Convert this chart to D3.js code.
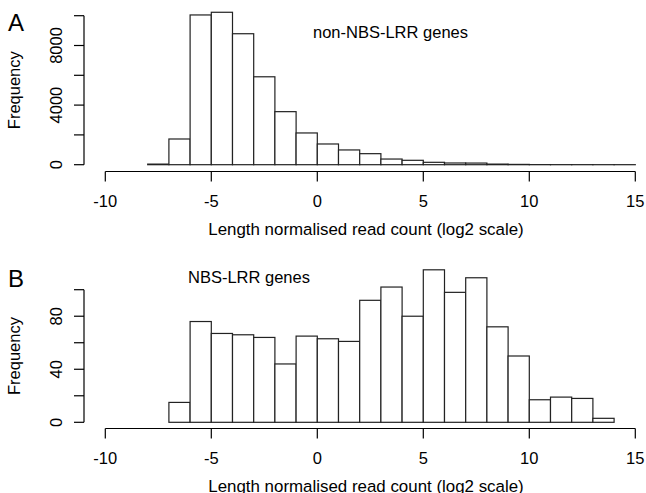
<!DOCTYPE html>
<html>
<head>
<meta charset="utf-8">
<script src="https://cdn.jsdelivr.net/npm/d3@7"></script>
<style>
  body { margin: 0; background: #fff; }
  svg text { font-family: "Liberation Sans", Arial, sans-serif; fill: #000; }
</style>
</head>
<body>
<svg id="canvas" width="646" height="493"></svg>
<script>
// bins are 1 unit wide, given by their left edge
var binsA = [-8,-7,-6,-5,-4,-3,-2,-1,0,1,2,3,4,5,6,7,8,9,10,11,12,13,14];
var countsA = [40,1725,10050,10230,8790,5900,3560,2130,1390,990,740,380,295,160,115,110,40,20,5,3,2,1,1];

var binsB = [-7,-6,-5,-4,-3,-2,-1,0,1,2,3,4,5,6,7,8,9,10,11,12,13];
var countsB = [15,76,67,66,64,44,65,63,61,92,102,80,115,98,109,72,50,17,19,18,3];

var xTicks = [-10,-5,0,5,10,15];
var yTicksA = [0,2000,4000,6000,8000,10000];
var yLabelsA = [0,4000,8000];
var yTicksB = [0,20,40,60,80,100];
var yLabelsB = [0,40,80];

var svg = d3.select('#canvas');
var x = d3.scaleLinear().domain([-10, 15]).range([105.3, 635.3]);
var fs = '16.5px';

// ************************************************************************************** //
// Draw one panel

function drawPanel(p){
  var g = svg.append('g');
  var y = d3.scaleLinear().domain(p.yDomain).range([p.y0, p.y1]);

  // bars
  g.selectAll('rect.bar').data(p.bins).enter().append('rect')
    .attr('x', d => x(d))
    .attr('width', d => x(d+1) - x(d))
    .attr('y', (d,i) => y(p.counts[i]))
    .attr('height', (d,i) => y(0) - y(p.counts[i]))
    .style('fill', '#fff').style('stroke', '#222').style('stroke-width', 1.2);

  // x axis
  var xa = g.append('g').attr('transform', 'translate(0,' + p.xAxisY + ')');
  xa.append('line').attr('x1', x(-10)).attr('x2', x(15)).attr('y1', 0).attr('y2', 0)
    .style('stroke', '#000').style('stroke-width', 1.2);
  xa.selectAll('line.tick').data(xTicks).enter().append('line')
    .attr('x1', d => x(d)).attr('x2', d => x(d)).attr('y1', 0).attr('y2', 10)
    .style('stroke', '#000').style('stroke-width', 1.2);
  xa.selectAll('text').data(xTicks).enter().append('text')
    .attr('x', d => x(d)).attr('y', 35.3).attr('text-anchor', 'middle')
    .style('font-size', fs).text(d => d);

  g.append('text').attr('x', 366).attr('y', p.xAxisY + 63.3).attr('text-anchor', 'middle')
    .style('font-size', '16.9px').text('Length normalised read count (log2 scale)');

  // y axis
  var ya = g.append('g').attr('transform', 'translate(84,0)');
  ya.append('line').attr('x1', 0).attr('x2', 0).attr('y1', y(p.yTicks[0])).attr('y2', y(p.yTicks[p.yTicks.length-1]))
    .style('stroke', '#000').style('stroke-width', 1.2);
  ya.selectAll('line.tick').data(p.yTicks).enter().append('line')
    .attr('x1', -10).attr('x2', 0).attr('y1', d => y(d)).attr('y2', d => y(d))
    .style('stroke', '#000').style('stroke-width', 1.2);
  ya.selectAll('text').data(p.yLabels).enter().append('text')
    .attr('transform', d => 'translate(-22,' + y(d) + ') rotate(-90)')
    .attr('text-anchor', 'middle').style('font-size', fs).text(d => d);

  g.append('text').attr('transform', 'translate(20,' + ((y(p.yTicks[0]) + y(p.yTicks[p.yTicks.length-1]))/2) + ') rotate(-90)')
    .attr('text-anchor', 'middle').style('font-size', fs).text('Frequency');

  // panel letter and title
  g.append('text').attr('x', 8).attr('y', p.letterY).style('font-size', '24px').text(p.letter);
  g.append('text').attr('x', p.titleX).attr('y', p.titleY).style('font-size', fs).text(p.title);
}

drawPanel({ bins: binsA, counts: countsA, yDomain: [0, 10000], y0: 164.7, y1: 15.7, xAxisY: 171.5,
  yTicks: yTicksA, yLabels: yLabelsA, letter: 'A', letterY: 31, title: 'non-NBS-LRR genes', titleX: 313, titleY: 38 });
drawPanel({ bins: binsB, counts: countsB, yDomain: [0, 100], y0: 422.3, y1: 289.7, xAxisY: 428.5,
  yTicks: yTicksB, yLabels: yLabelsB, letter: 'B', letterY: 287, title: 'NBS-LRR genes', titleX: 188, titleY: 283 });
</script>
</body>
</html>
